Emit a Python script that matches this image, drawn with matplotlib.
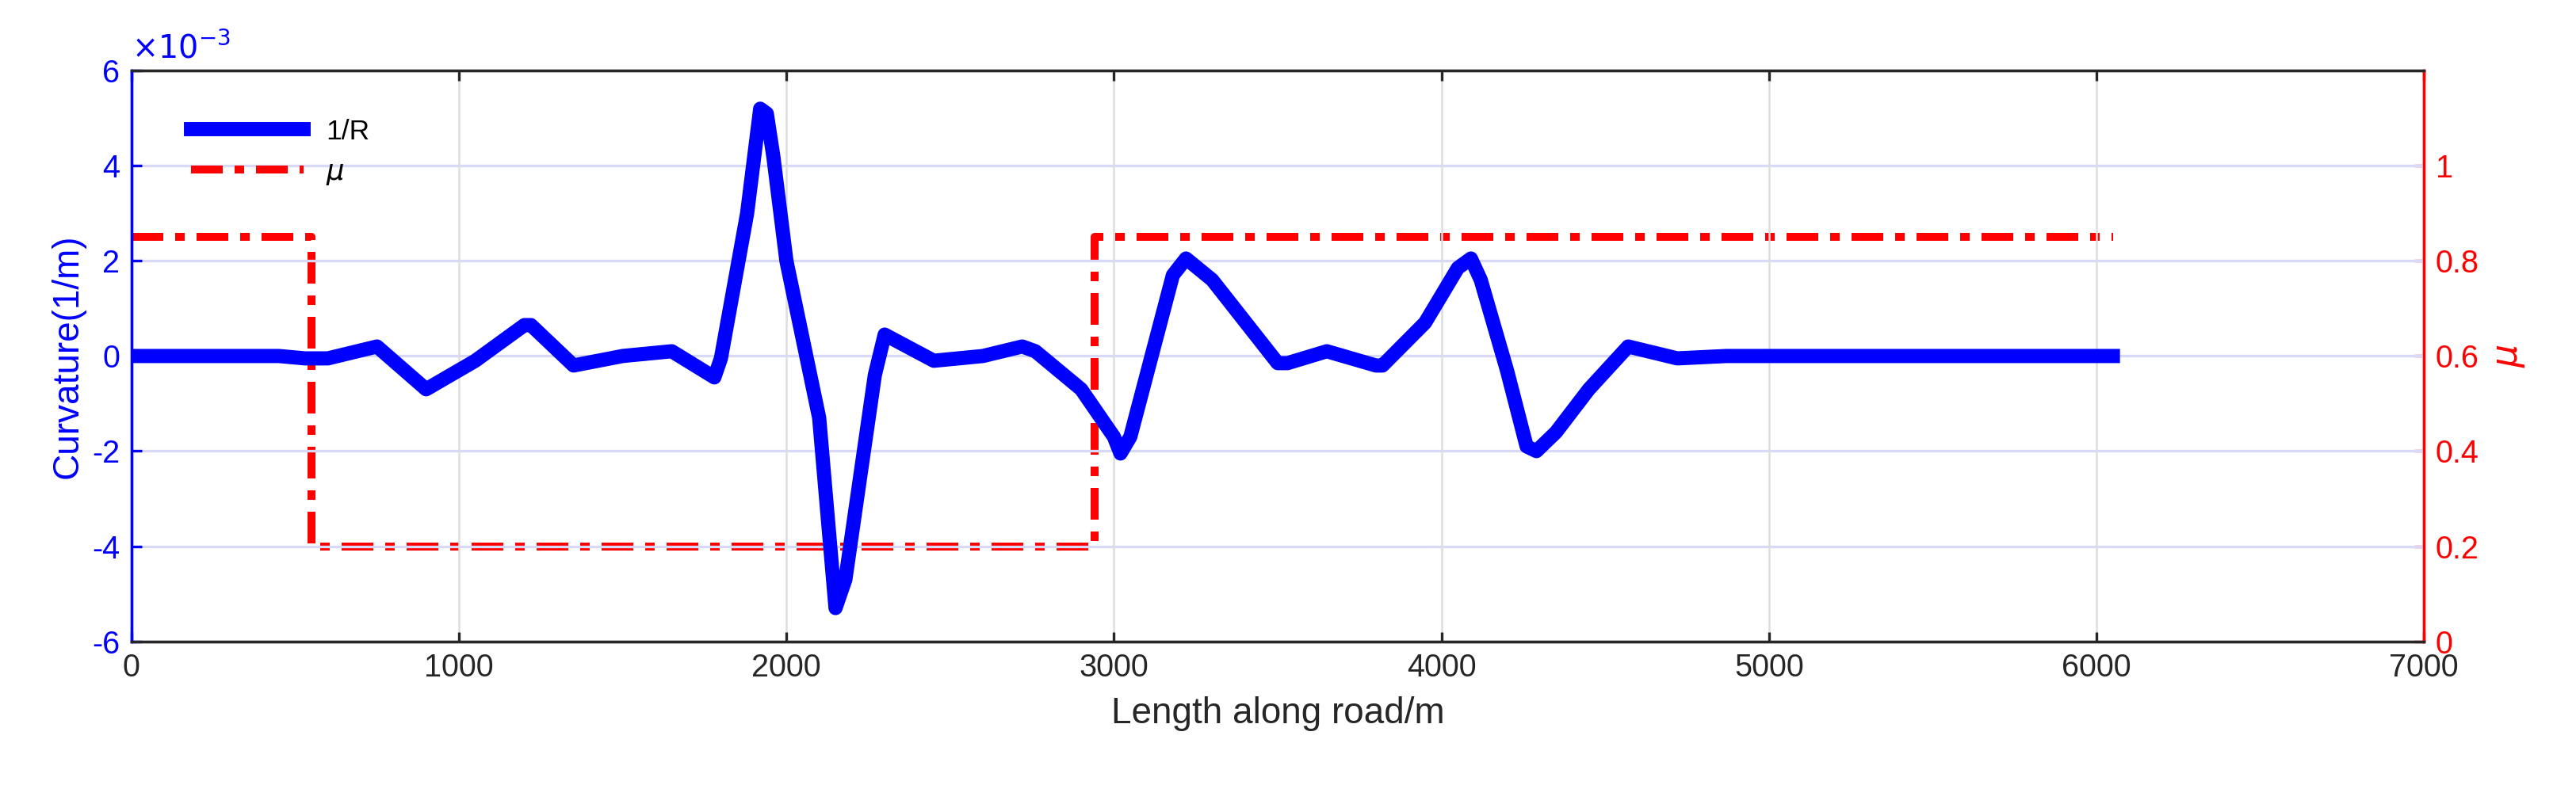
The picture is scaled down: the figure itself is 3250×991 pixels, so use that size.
import matplotlib
matplotlib.use("Agg")
import matplotlib.pyplot as plt
import numpy as np

dist = [0,450,530,600,750,900,1050,1200,1220,1350,1500,1650,1780,1800,1880,1920,1940,1960,2000,2100,2150,2180,2270,2300,2450,2600,2720,2760,2900,3000,3020,3050,3180,3220,3300,3380,3500,3530,3650,3800,3820,3950,4050,4090,4120,4200,4260,4290,4350,4450,4570,4720,4870,6050]
curv = [0,0,-0.05,-0.05,0.2,-0.7,-0.1,0.65,0.65,-0.2,0,0.1,-0.45,-0.05,3,5.2,5.1,4.2,2,-1.3,-5.3,-4.7,-0.4,0.45,-0.1,0,0.2,0.1,-0.7,-1.7,-2.05,-1.7,1.7,2.05,1.6,0.9,-0.15,-0.15,0.1,-0.2,-0.2,0.7,1.85,2.05,1.6,-0.3,-1.9,-2.0,-1.6,-0.7,0.2,-0.05,0.0,0]
mu_x = [0,550,550,2940,2940,6050]
mu_y = [0.85,0.85,0.2,0.2,0.85,0.85]

plt.rcParams['font.family'] = ['Liberation Sans', 'DejaVu Sans']
plt.rcParams['font.size'] = 9.5
fig = plt.figure(figsize=(3250/300, 991/300), dpi=300)
ax = fig.add_axes([0.051, 0.183, 0.890, 0.727])
ax2 = ax.twinx()
ax.set_zorder(2); ax.patch.set_visible(False)

for y in [-4,-2,0,2,4]:
    ax.axhline(y, color='#d8d8f8', lw=0.8, zorder=0)
for x in range(1000,7000,1000):
    ax.axvline(x, color='#dddddd', lw=0.6, zorder=0)

l1, = ax.plot(dist, np.array(curv), color='#0000ff', lw=4.3, label='1/R', zorder=3)
l2, = ax2.plot(mu_x, mu_y, color='#ff0000', lw=2.4, label=r'$\mu$', dashes=(4, 1.5, 1.2, 1.5))

ax.set_xlim(0,7000); ax.set_ylim(-6,6)
ax2.set_ylim(0,1.2)
ax.set_xticks(range(0,7001,1000))
ax.set_yticks(range(-6,7,2))
ax.set_yticklabels([str(v) for v in range(-6,7,2)])
ax2.set_yticks([0,0.2,0.4,0.6,0.8,1.0])
ax2.set_yticklabels(['0','0.2','0.4','0.6','0.8','1'])
ax.text(0.0, 1.01, r'$\times10^{-3}$', transform=ax.transAxes, color='#0000ff', fontsize=9.5, va='bottom')
ax.set_xlabel('Length along road/m', fontsize=11, color='#262626')
ax.set_ylabel('Curvature(1/m)', fontsize=11, color='#0000ff', labelpad=2)
ax2.set_ylabel(r'$\mu$', fontsize=11, color='#ff0000')
ax.tick_params(axis='y', colors='#0000ff', direction='in', length=3)
ax.tick_params(axis='x', colors='#262626', direction='in', length=3, top=True)
ax2.tick_params(axis='y', colors='#ff0000', direction='in', length=3)
for a in (ax, ax2):
    a.spines['top'].set_color('#262626')
    a.spines['bottom'].set_color('#262626')
    a.spines['left'].set_color('#0000ff')
    a.spines['right'].set_color('#ff0000')
ax.legend(handles=[l1,l2], loc='upper left', bbox_to_anchor=(0.015,0.96), frameon=False, fontsize=8.5, handlelength=4)
fig.savefig('out.png', dpi=300)
